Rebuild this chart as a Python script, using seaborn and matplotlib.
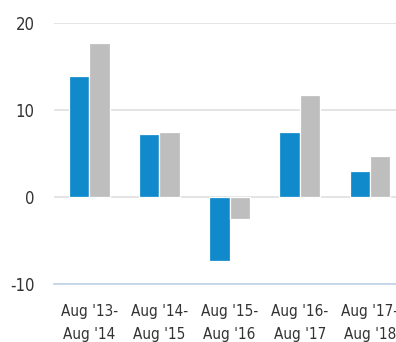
import matplotlib
matplotlib.use("Agg")
import matplotlib.pyplot as plt
import seaborn as sns
import pandas as pd

# Annual returns (%) over rolling twelve-month periods
periods = ["Aug '13-\nAug '14", "Aug '14-\nAug '15", "Aug '15-\nAug '16",
           "Aug '16-\nAug '17", "Aug '17-\nAug '18"]
fund_returns = [13.9, 7.2, -7.3, 7.5, 3.0]
benchmark_returns = [17.7, 7.5, -2.5, 11.7, 4.7]
series_names = ["Fund", "Benchmark"]
y_ticks = [-10, 0, 10, 20]

blue = "#118ACB"
grey = "#BEBEBE"

df = pd.DataFrame({
    "period": periods * 2,
    "value": fund_returns + benchmark_returns,
    "series": [series_names[0]] * len(periods) + [series_names[1]] * len(periods),
})

sns.set_theme(style="white")
plt.rcParams["font.family"] = ["Liberation Sans Narrow", "DejaVu Sans"]
plt.rcParams["font.stretch"] = "condensed"

fig = plt.figure(figsize=(3.96, 3.42), dpi=100)
ax = fig.add_axes([0.137, 0.1687, 0.8856, 0.7655])

sns.barplot(data=df, x="period", y="value", hue="series",
            palette=[blue, grey], saturation=1, width=0.58, edgecolor="white",
            linewidth=0.9, legend=False, ax=ax, zorder=3)

ax.set_xlim(-0.5, 4.5)
ax.set_ylim(-10, 20)
ax.set_yticks(y_ticks)
ax.set_yticklabels([str(t) for t in y_ticks])
ax.set_xlabel("")
ax.set_ylabel("")

ax.yaxis.grid(True, color="#DCDCDC", linewidth=1.1, zorder=0)
ax.xaxis.grid(False)
ax.set_axisbelow(True)

for side in ["top", "right", "left"]:
    ax.spines[side].set_visible(False)
ax.spines["bottom"].set_color("#BFD2E8")
ax.spines["bottom"].set_linewidth(1.2)

ax.tick_params(axis="y", length=0, pad=14, labelsize=12, labelcolor="#333333")
ax.tick_params(axis="x", length=0, pad=14, labelsize=11, labelcolor="#333333")
for lbl in ax.get_xticklabels():
    lbl.set_linespacing(1.65)

fig.savefig("out.png", dpi=100)
